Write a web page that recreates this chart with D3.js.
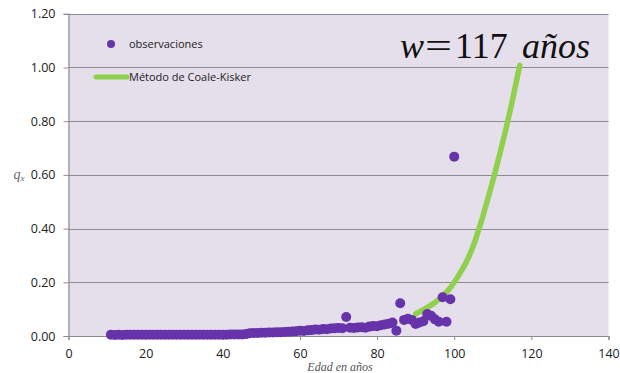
<!DOCTYPE html>
<html>
<head>
<meta charset="utf-8">
<script src="https://cdn.jsdelivr.net/npm/d3@7"></script>
<style>
  html, body { margin: 0; padding: 0; background: #fff; }
  svg { display: block; }
</style>
</head>
<body>
<svg id="chart" width="620" height="373"></svg>
<script>
// Observed probabilities of death q(x) by age
const obsAges = d3.range(11, 101);
const obsValues = [
  0.005, 0.004, 0.005, 0.004, 0.005, 0.005, 0.005, 0.005, 0.005, 0.005, // 11-20
  0.005, 0.005, 0.005, 0.005, 0.005, 0.005, 0.005, 0.005, 0.005, 0.005, // 21-30
  0.005, 0.005, 0.005, 0.005, 0.005, 0.005, 0.005, 0.005, 0.005, 0.005, // 31-40
  0.005, 0.006, 0.006, 0.006, 0.006, 0.007, 0.010, 0.011, 0.011, 0.012, // 41-50
  0.012, 0.013, 0.013, 0.014, 0.014, 0.015, 0.016, 0.017, 0.018, 0.020, // 51-60
  0.019, 0.021, 0.022, 0.024, 0.023, 0.026, 0.025, 0.028, 0.029, 0.030, // 61-70
  0.029, 0.071, 0.031, 0.030, 0.032, 0.033, 0.031, 0.035, 0.037, 0.036, // 71-80
  0.040, 0.043, 0.046, 0.050, 0.020, 0.122, 0.060, 0.064, 0.060, 0.045, // 81-90
  0.050, 0.055, 0.082, 0.075, 0.062, 0.053, 0.144, 0.053, 0.137, 0.668  // 91-100
];

// Coale-Kisker closing of the table, up to the last age w = 117
const ckAges = d3.range(90, 118);
const ckValues = [
  0.082, 0.090, 0.098, 0.106, 0.115, 0.125, 0.136, 0.149, 0.163, 0.180, // 90-99
  0.200, 0.222, 0.246, 0.272, 0.302, 0.338, 0.380, 0.425, 0.475, 0.525, // 100-109
  0.578, 0.632, 0.688, 0.746, 0.808, 0.872, 0.940, 1.008               // 110-117
];

const xTicks = [0, 20, 40, 60, 80, 100, 120, 140];
const yTicks = [0, 0.2, 0.4, 0.6, 0.8, 1.0, 1.2];

const svg = d3.select("#chart");
const plot = { left: 68.5, right: 608.5, top: 13.8, bottom: 336 };

const x = d3.scaleLinear().domain([0, 140]).range([plot.left, plot.right]);
const y = d3.scaleLinear().domain([0, 1.2]).range([plot.bottom, plot.top]);

// plot background
svg.append("rect")
  .attr("x", plot.left).attr("y", plot.top)
  .attr("width", plot.right - plot.left).attr("height", plot.bottom - plot.top)
  .attr("fill", "#e4dfeb");

// horizontal gridlines
svg.append("g")
  .selectAll("line")
  .data(yTicks.filter(d => d > 0))
  .join("line")
  .attr("x1", plot.left).attr("x2", plot.right)
  .attr("y1", d => Math.round(y(d)) + 0.5).attr("y2", d => Math.round(y(d)) + 0.5)
  .attr("stroke", "#8e8a93").attr("stroke-width", 1.2);

// y axis
const yAxis = svg.append("g")
  .attr("transform", `translate(${plot.left},0)`)
  .call(d3.axisLeft(y).tickValues(yTicks).tickFormat(d3.format(".2f")).tickSize(5).tickPadding(8));

// x axis
const xAxis = svg.append("g")
  .attr("transform", `translate(0,${plot.bottom})`)
  .call(d3.axisBottom(x).tickValues(xTicks).tickFormat(d3.format("d")).tickSize(4).tickPadding(9));

[yAxis, xAxis].forEach(g => {
  g.select(".domain").attr("stroke", "#8e8a93").attr("stroke-width", 1.2);
  g.selectAll(".tick line").attr("stroke", "#8e8a93");
  g.selectAll(".tick text")
    .attr("fill", "#222")
    .style("font-family", "'Open Sans', 'Liberation Sans', sans-serif")
    .style("font-size", "12.5px");
});

// Coale-Kisker curve
const line = d3.line()
  .x((d, i) => x(ckAges[i]))
  .y(d => y(d))
  .curve(d3.curveMonotoneX);

svg.append("path")
  .datum(ckValues)
  .attr("d", line)
  .attr("fill", "none")
  .attr("stroke", "#8fd04c")
  .attr("stroke-width", 5.5)
  .attr("stroke-linecap", "round")
  .attr("stroke-linejoin", "round");

// observed points
svg.append("g")
  .selectAll("circle")
  .data(obsValues)
  .join("circle")
  .attr("cx", (d, i) => x(obsAges[i]))
  .attr("cy", d => y(d))
  .attr("r", 5)
  .attr("fill", "#6633aa");

// legend
const legend = svg.append("g")
  .style("font-family", "'Open Sans', 'Liberation Sans', sans-serif")
  .style("font-size", "11px")
  .attr("fill", "#222");
legend.append("circle").attr("cx", 111).attr("cy", 44).attr("r", 4).attr("fill", "#6633aa");
legend.append("text").attr("x", 129).attr("y", 48).text("observaciones");
legend.append("line")
  .attr("x1", 96).attr("x2", 127).attr("y1", 77).attr("y2", 77)
  .attr("stroke", "#8fd04c").attr("stroke-width", 5).attr("stroke-linecap", "round");
legend.append("text").attr("x", 129).attr("y", 81).text("Método de Coale-Kisker");

// last age annotation: w = 117 años
const ann = svg.append("g")
  .attr("fill", "#111")
  .style("font-family", "'Liberation Serif', 'DejaVu Serif', serif")
  .style("font-size", "36px");
ann.append("text").attr("x", 400).attr("y", 58).style("font-style", "italic").text("w");
ann.append("text").attr("x", 425).attr("y", 58)
  .attr("textLength", 27).attr("lengthAdjust", "spacingAndGlyphs").text("=");
ann.append("text").attr("x", 455).attr("y", 58).text("117");
ann.append("text").attr("x", 522).attr("y", 58).style("font-style", "italic").text("años");

// axis titles
const yTitle = svg.append("text")
  .attr("x", 19).attr("y", 179)
  .attr("text-anchor", "middle")
  .attr("fill", "#666")
  .style("font-family", "'Liberation Serif', serif")
  .style("font-style", "italic")
  .style("font-size", "14px");
yTitle.append("tspan").text("q");
yTitle.append("tspan").attr("dy", 2).style("font-size", "9px").text("x");

svg.append("text")
  .attr("x", 340).attr("y", 371)
  .attr("text-anchor", "middle")
  .attr("fill", "#555")
  .style("font-family", "'Liberation Serif', serif")
  .style("font-style", "italic")
  .style("font-size", "12px")
  .text("Edad en años");
</script>
</body>
</html>
